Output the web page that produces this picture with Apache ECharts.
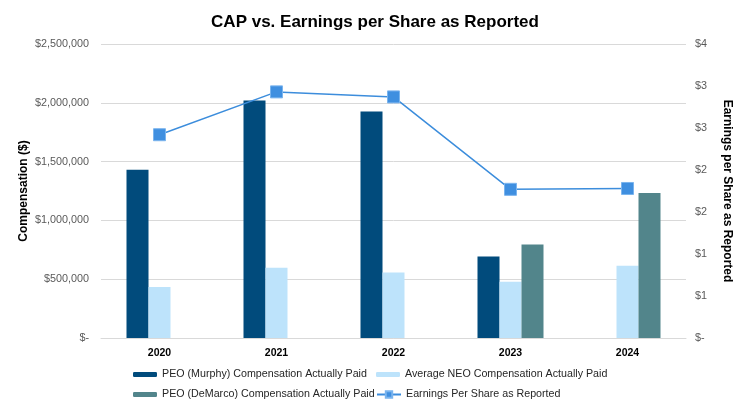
<!DOCTYPE html>
<html>
<head>
<meta charset="utf-8">
<script src="https://cdn.jsdelivr.net/npm/echarts@6/dist/echarts.min.js"></script>
<style>
  html, body { margin: 0; padding: 0; background: #fff; }
  #chart { width: 750px; height: 409px; }
</style>
</head>
<body>
<div id="chart"></div>
<script type="text/javascript">
// data
var years = ['2020', '2021', '2022', '2023', '2024'];
var murphyCap = [1431000, 2020000, 1927000, 694000, null];
var neoCap = [434000, 598000, 558000, 479000, 615000];
var demarcoCap = [null, null, null, 796000, 1233000];
var eps = [2.42, 2.93, 2.87, 1.77, 1.78];

var FONT = 'Liberation Sans, Arial, sans-serif';

function money(v) {
	if (v === 0) return '$-';
	return '$' + v.toLocaleString('en-US');
}
function epsLabel(v) {
	if (v === 0) return '$-';
	return '$' + Math.round(v);
}

var chart = echarts.init(document.getElementById('chart'));

var legendText = { fontFamily: FONT, fontSize: 10.7, color: '#262626' };
function oneLegend(name, left, top, isLine) {
	return {
		data: [name],
		left: left,
		top: top,
		itemWidth: 24,
		itemHeight: isLine ? 8 : 5,
		itemGap: 0,
		textStyle: legendText,
		selectedMode: false,
		padding: 0
	};
}

var option = {
	animation: false,
	title: {
		text: 'CAP vs. Earnings per Share as Reported',
		left: 'center',
		top: 9,
		textStyle: { fontFamily: FONT, fontSize: 17, fontWeight: 'bold', color: '#000' }
	},
	legend: [
		oneLegend('PEO (Murphy) Compensation Actually Paid', 133, 369, false),
		oneLegend('Average NEO Compensation Actually Paid', 376, 369, false),
		oneLegend('PEO (DeMarco) Compensation Actually Paid', 133, 389, false),
		oneLegend('Earnings Per Share as Reported', 376, 389, true)
	],
	grid: { left: 101, right: 64, top: 44, bottom: 71 },
	xAxis: {
		type: 'category',
		data: years,
		axisTick: { show: false },
		axisLine: { lineStyle: { color: '#d9d9d9' } },
		axisLabel: { fontFamily: FONT, fontSize: 10.5, fontWeight: 'bold', color: '#000', margin: 10 }
	},
	yAxis: [
		{
			type: 'value',
			min: 0, max: 2500000, interval: 500000,
			name: 'Compensation ($)',
			nameLocation: 'middle',
			nameGap: 71,
			nameMoveOverlap: false,
			nameTextStyle: { fontFamily: FONT, fontSize: 12, fontWeight: 'bold', color: '#000' },
			axisLabel: { formatter: money, fontFamily: FONT, fontSize: 10.8, color: '#595959', margin: 12 },
			splitLine: { lineStyle: { color: '#d9d9d9' } },
			axisLine: { show: false },
			axisTick: { show: false }
		},
		{
			type: 'value',
			min: 0, max: 3.5, interval: 0.5,
			name: 'Earnings per Share as Reported',
			nameLocation: 'middle',
			nameRotate: -90,
			nameGap: 35,
			nameTextStyle: { fontFamily: FONT, fontSize: 12, fontWeight: 'bold', color: '#000' },
			axisLabel: { formatter: epsLabel, fontFamily: FONT, fontSize: 10.8, color: '#595959', margin: 9 },
			splitLine: { show: false },
			axisLine: { show: false },
			axisTick: { show: false }
		}
	],
	series: [
		{
			name: 'PEO (Murphy) Compensation Actually Paid',
			type: 'bar', data: murphyCap, barWidth: 22, barGap: '0%',
			itemStyle: { color: '#014b7c' }
		},
		{
			name: 'Average NEO Compensation Actually Paid',
			type: 'bar', data: neoCap, barWidth: 22, barGap: '0%',
			itemStyle: { color: '#bde3fb' }
		},
		{
			name: 'PEO (DeMarco) Compensation Actually Paid',
			type: 'bar', data: demarcoCap, barWidth: 22, barGap: '0%',
			itemStyle: { color: '#52858b' }
		},
		{
			name: 'Earnings Per Share as Reported',
			type: 'line', yAxisIndex: 1, data: eps,
			symbol: 'rect', symbolSize: 12,
			lineStyle: { color: '#3c8ddc', width: 1.5 },
			itemStyle: { color: '#3f8fe0', borderColor: '#7ab4ee', borderWidth: 1 },
			z: 5
		}
	]
};
chart.setOption(option);
</script>
</body>
</html>
